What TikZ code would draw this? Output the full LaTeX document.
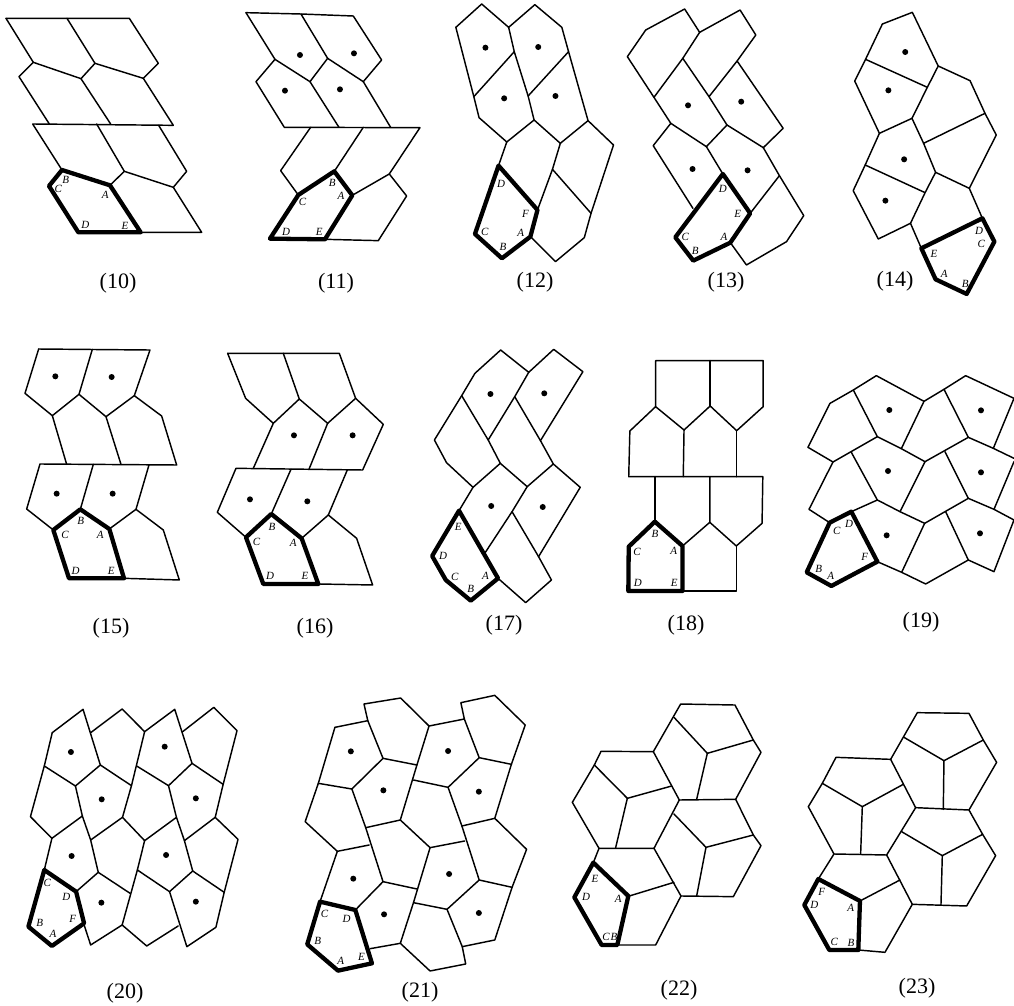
\documentclass[tikz,border=0pt]{standalone}
\usepackage{fontspec}
\setmainfont{Liberation Serif}
\newcount\nodeidx
\newcommand\lab[2]{\global\advance\nodeidx 1 \node[lbl] (n\the\nodeidx) at (#1) {#2};}
\tikzset{
  tl/.style={draw=black,line width=1.45pt,line join=round,line cap=round},
  tk/.style={draw=black,line width=4.3pt,line join=round,line cap=round},
  lbl/.style={inner sep=0pt,font=\fontsize{11}{13}\selectfont\itshape},
  figcap/.style={inner sep=0pt,font=\fontsize{22}{24}\selectfont},
  za/.style={shift={(#1)},x=0.3333pt,y=-0.3333pt},
  zb/.style={shift={(430pt,0pt)},x=0.3745pt,y=-0.3333pt},
  zd/.style={shift={(420pt,-330pt)},x=0.3788pt,y=-0.3333pt},
  ze/.style={shift={(0pt,-680pt)},x=0.346pt,y=-0.3333pt}
}
\newcommand\dts[1]{\foreach \p in {#1} \fill \p circle[radius=3pt];}
\begin{document}
\begin{tikzpicture}
\useasboundingbox (0pt,0pt) rectangle (1014pt,-1005pt);
\fill[white] (0pt,0pt) rectangle (1014pt,-1005pt);
% ---- 10, 11
\begin{scope}[za={0pt,0pt}]
\draw[tl] (18,55)--(388,55)--(475,190)--(430,235)--(520,376)--(98,372)--(186,510);
\draw[tl] (18,55)--(100,187)--(57,230)--(148,372);
\draw[tl] (201,55)--(285,190)--(243,236)--(332,372);
\draw[tl] (100,187)--(243,236);
\draw[tl] (285,190)--(430,235);
\draw[tl] (290,372)--(373,514)--(330,556);
\draw[tl] (476,376)--(560,514)--(520,562)--(605,697)--(422,697);
\draw[tl] (373,514)--(520,562);
\draw[tk] (186,510)--(330,556)--(422,697)--(235,697)--(147,558)--cycle;
\lab{197,540}{B}\lab{175,568}{C}\lab{316,585}{A}\lab{256,674}{D}\lab{375,678}{E}
\draw[tl] (738,38)--(903,42)--(1060,48)--(1145,180)--(1090,245)--(1172,382);
\draw[tl] (738,38)--(825,178)--(768,245)--(853,382)--(1260,383)--(1168,522)--(1220,588)--(1135,722)--(975,718);
\draw[tl] (903,42)--(983,175)--(930,245)--(1017,382);
\draw[tl] (825,178)--(930,245);
\draw[tl] (983,175)--(1090,245);
\draw[tl] (932,382)--(842,512)--(895,585);
\draw[tl] (1090,382)--(1003,514);
\draw[tl] (1057,586)--(1168,522);
\draw[tk] (1003,514)--(1057,586)--(975,718)--(810,716)--(895,585)--cycle;
\dts{(900,165),(1062,160),(855,272),(1020,268)}
\lab{997,550}{B}\lab{1023,588}{A}\lab{908,605}{C}\lab{858,695}{D}\lab{958,697}{E}
\end{scope}
% ---- 12, 13, 14
\begin{scope}[zb]
\draw[tl] (69,82)--(138,12)--(210,82)--(280,14)--(352,82)--(370,155)--(422,362)--(490,435)--(430,640)--(412,713)--(335,785)--(270,712);
\draw[tl] (69,82)--(117,290)--(131,353)--(205,426)--(278,360)--(348,430)--(422,362);
\draw[tl] (210,82)--(225,155)--(262,288)--(278,360);
\draw[tl] (225,155)--(117,290);
\draw[tl] (370,155)--(262,288);
\draw[tl] (205,426)--(183,497);
\draw[tl] (348,430)--(327,508)--(287,630);
\draw[tl] (327,508)--(430,640);
\draw[tk] (183,497)--(287,630)--(268,710)--(192,775)--(120,702)--cycle;
\dts{(148,143),(289,141),(198,295),(335,288)}
\lab{190,553}{D}\lab{255,642}{F}\lab{146,696}{C}\lab{242,698}{A}\lab{195,742}{B}
\draw[tl] (527,170)--(576,90)--(680,27)--(720,97)--(828,30)--(870,105)--(820,183)--(943,385)--(890,443)--(933,527)--(998,647)--(952,725)--(845,795)--(802,728);
\draw[tl] (527,170)--(598,292)--(643,370)--(738,440)--(793,375)--(890,443);
\draw[tl] (720,97)--(675,175)--(598,292);
\draw[tl] (675,175)--(745,290)--(793,375);
\draw[tl] (820,183)--(745,290);
\draw[tl] (643,370)--(596,437)--(702,625);
\draw[tl] (738,440)--(782,522);
\draw[tl] (933,527)--(855,640);
\draw[tk] (782,522)--(855,640)--(802,728)--(703,782)--(655,712)--cycle;
\dts{(689,316),(831,305),(701,507),(848,511)}
\lab{782,568}{D}\lab{822,643}{E}\lab{682,712}{C}\lab{785,710}{A}\lab{708,752}{B}
\draw[tl] (1208,72)--(1288,37)--(1357,198)--(1442,242)--(1482,340)--(1512,405)--(1440,565)--(1475,655);
\draw[tl] (1208,72)--(1163,178)--(1134,243)--(1200,400)--(1287,355)--(1318,430)--(1350,517)--(1440,565);
\draw[tl] (1163,178)--(1328,262);
\draw[tl] (1357,198)--(1328,262)--(1287,355);
\draw[tl] (1482,340)--(1318,430);
\draw[tl] (1200,400)--(1162,495)--(1130,572)--(1197,717)--(1283,670)--(1312,745);
\draw[tl] (1162,495)--(1322,578);
\draw[tl] (1350,517)--(1322,578)--(1283,670);
\draw[tk] (1475,655)--(1507,725)--(1433,882)--(1350,838)--(1312,745)--cycle;
\dts{(1269,156),(1224,271),(1266,478),(1216,602)}
\lab{1466,693}{D}\lab{1472,732}{C}\lab{1346,763}{E}\lab{1373,822}{A}\lab{1429,853}{B}
\end{scope}
% ---- 15, 16
\begin{scope}[za={0pt,-330pt}]
\draw[tl] (116,57)--(450,60)--(403,197)--(485,258)--(530,405)--(120,402)--(80,537)--(160,600);
\draw[tl] (116,57)--(75,190)--(157,257)--(237,193)--(318,260)--(403,197);
\draw[tl] (277,58)--(237,193);
\draw[tl] (157,257)--(200,403);
\draw[tl] (318,260)--(363,403);
\draw[tl] (280,403)--(241,538);
\draw[tl] (447,405)--(408,538)--(490,600)--(538,750)--(372,745);
\draw[tl] (328,597)--(408,538);
\draw[tk] (241,538)--(328,597)--(372,745)--(207,745)--(160,600)--cycle;
\dts{(166,139),(335,141),(170,491),(338,491)}
\lab{242,572}{B}\lab{195,615}{C}\lab{301,616}{A}\lab{227,722}{D}\lab{334,724}{E}
\draw[tl] (683,70)--(1018,70)--(1067,205)--(1150,283)--(1088,420)--(708,415)--(652,547)--(738,622);
\draw[tl] (683,70)--(737,205)--(820,280)--(898,207)--(983,280)--(1067,205);
\draw[tl] (850,70)--(898,207);
\draw[tl] (820,280)--(760,415);
\draw[tl] (983,280)--(927,418);
\draw[tl] (873,418)--(814,552);
\draw[tl] (1042,420)--(985,555)--(1070,625)--(1118,765)--(955,762);
\draw[tl] (905,625)--(985,555);
\draw[tk] (814,552)--(905,625)--(955,762)--(790,762)--(738,622)--cycle;
\dts{(882,316),(1058,316),(750,508),(922,514)}
\lab{816,590}{B}\lab{770,637}{C}\lab{880,640}{A}\lab{810,738}{D}\lab{915,738}{E}
\end{scope}
% ---- 17, 18
\begin{scope}[zd]
\draw[tl] (110,197)--(145,130)--(213,60)--(287,127)--(353,58)--(430,125)--(318,332)--(352,402)--(423,472)--(313,680)--(347,750)--(279,818)--(206,745);
\draw[tl] (110,197)--(38,330)--(70,398)--(140,472)--(212,400)--(283,470)--(352,402);
\draw[tl] (287,127)--(250,200)--(180,330)--(110,197);
\draw[tl] (250,200)--(318,332);
\draw[tl] (180,330)--(212,400);
\draw[tl] (140,472)--(103,542);
\draw[tl] (283,470)--(243,545)--(172,668);
\draw[tl] (243,545)--(313,680);
\draw[tk] (103,542)--(206,745)--(134,812)--(68,750)--(32,678)--cycle;
\dts{(186,192),(328,190),(188,528),(324,531)}
\lab{101,590}{E}\lab{61,677}{D}\lab{92,740}{C}\lab{173,737}{A}\lab{134,776}{B}
\draw[tl] (622,230)--(622,92)--(906,92)--(906,230)--(836,302)--(766,228)--(697,300)--(622,230)--(554,303)--(551,440)--(905,440)--(903,580)--(835,648)--(765,577)--(765,440);
\draw[tl] (766,92)--(766,228);
\draw[tl] (697,300)--(695,440);
\draw[tl] (836,302)--(836,440);
\draw[tl] (620,440)--(620,575);
\draw[tl] (693,648)--(765,577);
\draw[tl] (835,648)--(835,783)--(693,783);
\draw[tk] (620,575)--(693,648)--(693,783)--(550,783)--(551,650)--cycle;
\lab{620,612}{B}\lab{573,665}{C}\lab{670,662}{A}\lab{575,760}{D}\lab{671,760}{E}
\end{scope}
% ---- 19
\begin{scope}[za={794pt,-360pt}]
\draw[tl] (42,262)--(108,130)--(178,90)--(247,47)--(390,124)--(450,88)--(515,47)--(660,115)--(598,265);
\draw[tl] (42,262)--(117,306)--(250,230)--(322,266)--(393,305)--(523,232)--(598,265)--(660,295);
\draw[tl] (178,90)--(250,230);
\draw[tl] (390,124)--(322,266);
\draw[tl] (450,88)--(523,232);
\draw[tl] (117,306)--(45,448)--(107,488);
\draw[tl] (172,277)--(250,420);
\draw[tl] (393,305)--(318,455);
\draw[tl] (453,275)--(523,415);
\draw[tl] (660,305)--(600,448);
\draw[tl] (172,455)--(250,420)--(318,455)--(392,490)--(523,415)--(600,448)--(660,480)--(600,635)--(523,600)--(455,455);
\draw[tl] (392,490)--(323,637);
\draw[tl] (250,605)--(323,637)--(395,672)--(523,600);
\draw[tk] (107,488)--(172,455)--(250,605)--(112,678)--(38,637)--cycle;
\dts{(286,150),(561,151),(282,333),(561,337),(278,526),(558,520)}
\lab{128,513}{C}\lab{165,492}{D}\lab{212,590}{F}\lab{74,627}{B}\lab{110,648}{A}
\end{scope}
% ---- 20, 21
\begin{scope}[ze]
\draw[tl] (151,158)--(240,88)--(290,255);
\draw[tl] (262,158)--(353,87)--(418,155)--(505,88)--(555,250);
\draw[tl] (528,155)--(618,82)--(685,152)--(645,313)--(622,412)--(688,478)--(648,637)--(624,742)--(540,800)--(490,635);
\draw[tl] (151,158)--(128,258)--(88,410)--(150,475)--(128,570);
\draw[tl] (128,258)--(218,318)--(290,255)--(380,317)--(418,155);
\draw[tl] (218,318)--(238,408)--(150,475);
\draw[tl] (238,408)--(262,480)--(284,577)--(376,640);
\draw[tl] (380,317)--(354,412)--(262,480);
\draw[tl] (354,412)--(418,482)--(510,412);
\draw[tl] (395,258)--(487,317)--(555,250)--(645,313);
\draw[tl] (622,412)--(533,482)--(557,573)--(648,637);
\draw[tl] (487,317)--(510,412)--(533,482);
\draw[tl] (418,482)--(397,570)--(490,635)--(557,573);
\draw[tl] (397,570)--(353,735)--(424,798)--(515,738);
\draw[tl] (353,735)--(262,795)--(240,725);
\draw[tl] (284,577)--(220,635);
\draw[tk] (128,570)--(220,635)--(243,730)--(150,798)--(82,740)--cycle;
\dts{(205,216),(476,200),(294,358),(566,355),(207,528),(480,525),(293,668),(566,665)}
\lab{137,610}{C}\lab{192,650}{D}\lab{210,718}{F}\lab{115,728}{B}\lab{153,762}{A}
\draw[tl] (968,142)--(1063,122)--(1052,72)--(1158,54)--(1240,138)--(1342,117)--(1332,68)--(1430,46)--(1518,135)--(1478,253)--(1430,415)--(1522,508)--(1480,622)--(1430,780)--(1336,800)--(1346,852)--(1243,873)--(1157,790)--(1070,806);
\draw[tl] (968,142)--(920,310)--(882,425)--(975,514)--(925,665);
\draw[tl] (920,310)--(1017,327)--(1107,235)--(1205,255)--(1157,420)--(1243,503)--(1195,668)--(1157,790);
\draw[tl] (1063,122)--(1107,235);
\draw[tl] (1240,138)--(1205,255);
\draw[tl] (1342,117)--(1385,233)--(1478,253);
\draw[tl] (1195,300)--(1295,322)--(1385,233);
\draw[tl] (1017,327)--(1057,443)--(1107,605)--(1205,627);
\draw[tl] (975,514)--(1067,495);
\draw[tl] (1057,443)--(1157,420);
\draw[tl] (1295,322)--(1335,438)--(1430,415);
\draw[tl] (1335,438)--(1385,600)--(1480,622);
\draw[tl] (1243,503)--(1343,483);
\draw[tl] (1195,668)--(1292,688)--(1385,600);
\draw[tl] (1292,688)--(1336,800);
\draw[tl] (1107,605)--(1027,690);
\draw[tk] (925,665)--(1027,690)--(1075,850)--(977,872)--(888,793)--cycle;
\dts{(1014,214),(1295,213),(1108,331),(1384,335),(1021,596),(1298,582),(1110,703),(1384,699)}
\lab{938,703}{C}\lab{1002,716}{D}\lab{918,782}{B}\lab{985,843}{A}\lab{1045,832}{E}
\end{scope}
% ---- 22, 23
\begin{scope}[za={540pt,-680pt}]
\draw[tl] (340,215)--(422,72)--(585,75)--(640,180)--(663,217)--(587,358)--(640,465)--(663,497)--(580,650)--(423,648)--(347,795)--(232,795);
\draw[tl] (340,215)--(183,214)--(163,255)--(97,367)--(177,505)--(160,548);
\draw[tl] (340,215)--(418,360)--(342,505)--(177,505);
\draw[tl] (402,112)--(502,220)--(640,180);
\draw[tl] (502,220)--(470,358);
\draw[tl] (418,360)--(587,358);
\draw[tl] (163,255)--(262,355)--(395,318);
\draw[tl] (262,355)--(227,503);
\draw[tl] (402,402)--(498,502)--(640,465);
\draw[tl] (498,502)--(470,648);
\draw[tl] (342,505)--(423,648);
\draw[tl] (402,607)--(268,648);
\draw[tk] (160,548)--(265,648)--(232,795)--(185,795)--(103,652)--cycle;
\lab{165,597}{E}\lab{138,650}{D}\lab{235,658}{A}\lab{198,772}{C}\lab{222,772}{B}
\draw[tl] (1052,238)--(1132,98)--(1287,100)--(1330,180)--(1370,247)--(1287,390)--(1328,463)--(1367,527)--(1280,678)--(1117,673)--(1035,817)--(955,810);
\draw[tl] (1052,238)--(888,232)--(847,310)--(805,380)--(882,522)--(835,597);
\draw[tl] (1052,238)--(1127,383)--(1040,525)--(882,522);
\draw[tl] (1092,172)--(1212,242)--(1330,180);
\draw[tl] (1212,242)--(1210,388);
\draw[tl] (1127,383)--(1287,390);
\draw[tl] (847,310)--(967,380)--(1090,313);
\draw[tl] (967,380)--(962,523);
\draw[tl] (1085,455)--(1207,527)--(1328,463);
\draw[tl] (1207,527)--(1203,675);
\draw[tl] (1040,525)--(1117,673);
\draw[tl] (960,663)--(1080,600);
\draw[tk] (835,597)--(960,663)--(955,810)--(868,810)--(793,675)--cycle;
\lab{845,635}{F}\lab{823,675}{D}\lab{932,683}{A}\lab{883,787}{C}\lab{933,788}{B}
\end{scope}
% ---- captions
\node[figcap] (c10) at (118pt,-283pt) {(10)};
\node[figcap] (c11) at (336pt,-283pt) {(11)};
\node[figcap] (c12) at (535pt,-282pt) {(12)};
\node[figcap] (c13) at (726pt,-282pt) {(13)};
\node[figcap] (c14) at (895pt,-281pt) {(14)};
\node[figcap] (c15) at (111pt,-628pt) {(15)};
\node[figcap] (c16) at (315pt,-628pt) {(16)};
\node[figcap] (c17) at (504pt,-625pt) {(17)};
\node[figcap] (c18) at (686pt,-625pt) {(18)};
\node[figcap] (c19) at (921pt,-622pt) {(19)};
\node[figcap] (c20) at (125pt,-993pt) {(20)};
\node[figcap] (c21) at (420pt,-992pt) {(21)};
\node[figcap] (c22) at (679pt,-990pt) {(22)};
\node[figcap] (c23) at (917pt,-988pt) {(23)};
\end{tikzpicture}
\end{document}
